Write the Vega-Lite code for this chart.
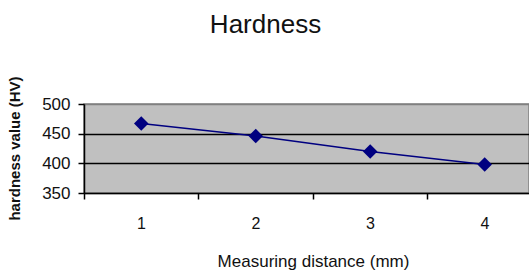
{
  "$schema": "https://vega.github.io/schema/vega-lite/v6.json",
  "autosize": {"type": "none"},
  "padding": {"left": 84, "top": 104, "right": 0, "bottom": 77},
  "width": 445,
  "height": 89,
  "background": "white",
  "config": {
    "font": "Liberation Sans",
    "view": {"fill": "#c0c0c0", "stroke": "#808080", "strokeWidth": 1.5}
  },
  "title": {
    "text": "Hardness",
    "frame": "group",
    "anchor": "middle",
    "dx": -41,
    "offset": 17,
    "baseline": "alphabetic",
    "fontSize": 26,
    "fontWeight": "normal",
    "color": "#111111",
    "font": "Liberation Sans"
  },
  "data": {
    "values": [
      {"distance": 1, "hardness": 467},
      {"distance": 2, "hardness": 446},
      {"distance": 3, "hardness": 420},
      {"distance": 4, "hardness": 398}
    ]
  },
  "encoding": {
    "x": {
      "field": "distance",
      "type": "quantitative",
      "scale": {"domain": [0.5, 4.387], "nice": false, "zero": false},
      "axis": {
        "values": [0.5, 1.5, 2.5, 3.5],
        "labelExpr": "datum.value + 0.5",
        "labelOffset": 57,
        "labelFlush": false,
        "labelOverlap": false,
        "labelBound": false,
        "grid": false,
        "domainColor": "black",
        "domainWidth": 1.5,
        "tickColor": "black",
        "tickWidth": 1.5,
        "tickSize": 6,
        "labelFontSize": 16,
        "labelColor": "#111111",
        "labelPadding": 16,
        "title": "Measuring distance (mm)",
        "titleFontSize": 17,
        "titleFontWeight": "normal",
        "titleColor": "#111111",
        "titleX": 229,
        "titleY": 60,
        "titleBaseline": "top"
      }
    },
    "y": {
      "field": "hardness",
      "type": "quantitative",
      "scale": {"domain": [350, 500], "nice": false, "zero": false},
      "axis": {
        "values": [350, 400, 450, 500],
        "grid": true,
        "gridColor": {"condition": {"test": "datum.value == 500 || datum.value == 350", "value": "#808080"}, "value": "black"},
        "gridWidth": 1.5,
        "gridOpacity": 1,
        "domainColor": "black",
        "domainWidth": 1.5,
        "tickColor": "black",
        "tickWidth": 1.5,
        "tickSize": 6,
        "labelFontSize": 17,
        "labelColor": "#111111",
        "labelPadding": 8,
        "title": "hardness value (HV)",
        "titleFontSize": 15,
        "titleFontWeight": "bold",
        "titleColor": "#111111",
        "titleX": -62,
        "titleY": 44
      }
    }
  },
  "layer": [
    {"mark": {"type": "line", "color": "#000080", "strokeWidth": 1.5}},
    {"mark": {"type": "point", "shape": "diamond", "filled": true, "color": "#000080", "size": 210, "opacity": 1}}
  ]
}
